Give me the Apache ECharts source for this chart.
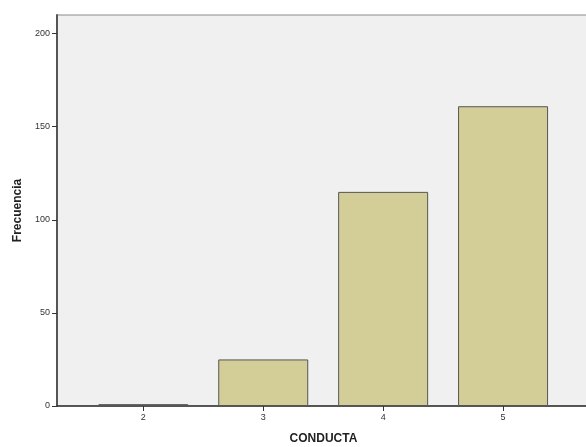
<!DOCTYPE html>
<html>
<head>
<meta charset="utf-8">
<script src="https://cdn.jsdelivr.net/npm/echarts@6/dist/echarts.min.js"></script>
<style>
html,body{margin:0;padding:0;background:#fff;}
#c{width:586px;height:447px;}
</style>
</head>
<body>
<div id="c"></div>
<script>
var categories = [2, 3, 4, 5];
var frecuencia = [1, 25, 115, 161];
var yTicks = [0, 50, 100, 150, 200];

var font = '"Liberation Sans", Arial, sans-serif';
var chart = echarts.init(document.getElementById('c'), null, {renderer: 'canvas'});
chart.setOption({
  animation: false,
  grid: {
    left: 57, top: 15, right: -4, bottom: 41,
    outerBoundsMode: 'none', containLabel: false,
    show: true, backgroundColor: '#f0f0f0', borderColor: '#8a8a8a', borderWidth: 1
  },
  xAxis: {
    type: 'value', min: 1.28, max: 5.725,
    name: 'CONDUCTA', nameLocation: 'middle', nameGap: 27,
    nameTextStyle: {fontFamily: font, fontWeight: 'bold', fontSize: 12, color: '#222'},
    axisLine: {show: true, lineStyle: {color: '#333', width: 1.5}},
    axisTick: {show: true, length: 5, lineStyle: {color: '#333'}, customValues: categories},
    axisLabel: {customValues: categories, fontFamily: font, fontSize: 9, color: '#333', margin: 7},
    splitLine: {show: false}
  },
  yAxis: {
    type: 'value', min: 0, max: 210,
    name: 'Frecuencia', nameLocation: 'middle', nameGap: 33, nameRotate: 90,
    nameTextStyle: {fontFamily: font, fontWeight: 'bold', fontSize: 12, color: '#222'},
    axisLine: {show: true, lineStyle: {color: '#555', width: 2}},
    axisTick: {show: true, length: 5, lineStyle: {color: '#333'}, customValues: yTicks},
    axisLabel: {customValues: yTicks, fontFamily: font, fontSize: 9, color: '#333', margin: 7},
    splitLine: {show: false}
  },
  series: [{
    type: 'bar',
    barWidth: 90,
    data: categories.map(function (c, i) { return [c, frecuencia[i]]; }),
    itemStyle: {color: '#d3ce97', borderColor: '#555', borderWidth: 1}
  }]
});
</script>
</body>
</html>
